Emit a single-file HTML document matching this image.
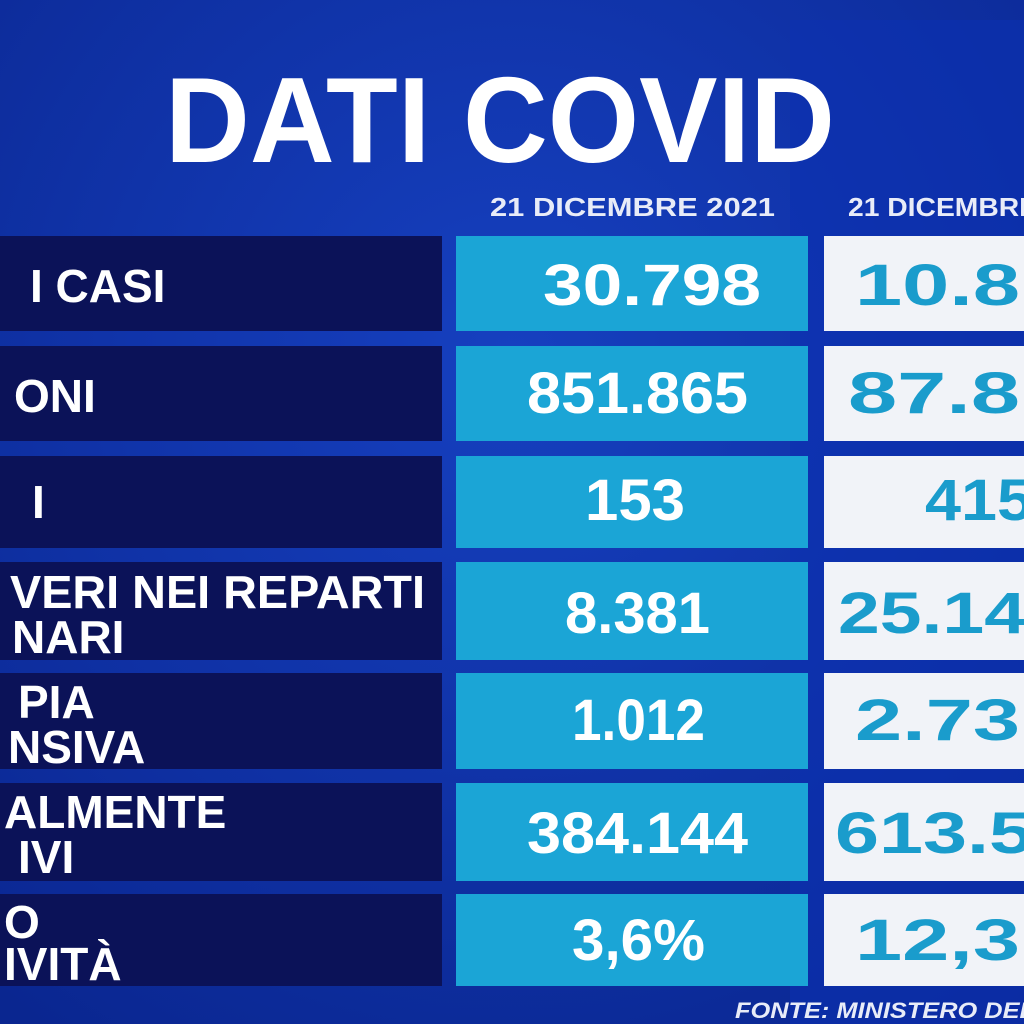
<!DOCTYPE html>
<html><head><meta charset="utf-8"><style>
html,body{margin:0;padding:0;background:#0a2a9a;}
svg{display:block}
text{font-family:"Liberation Sans",sans-serif;font-weight:bold}
</style></head><body>
<svg width="1024" height="1024" viewBox="0 0 1024 1024" xmlns="http://www.w3.org/2000/svg">
<defs>
<radialGradient id="bg" cx="0.5" cy="0.35" r="0.8">
<stop offset="0" stop-color="#1640c0"/><stop offset="1" stop-color="#0a2690"/>
</radialGradient>
</defs>
<rect width="1024" height="1024" fill="url(#bg)"/>
<rect x="790" y="20" width="234" height="1004" fill="#0c30b0" opacity="0.6"/>
<text x="165" y="162" font-size="122" fill="#fff" textLength="670" lengthAdjust="spacingAndGlyphs">DATI COVID</text>
<text x="490" y="216" font-size="26" fill="#e8ecf8" textLength="285" lengthAdjust="spacingAndGlyphs">21 DICEMBRE 2021</text>
<text x="848" y="216" font-size="26" fill="#e8ecf8" textLength="190" lengthAdjust="spacingAndGlyphs">21 DICEMBRE</text>
<g fill="#0b1258">
<rect x="0" y="236" width="442" height="95"/>
<rect x="0" y="346" width="442" height="95"/>
<rect x="0" y="456" width="442" height="92"/>
<rect x="0" y="562" width="442" height="98"/>
<rect x="0" y="673" width="442" height="96"/>
<rect x="0" y="783" width="442" height="98"/>
<rect x="0" y="894" width="442" height="92"/>
</g>
<g fill="#1ba5d6">
<rect x="456" y="236" width="352" height="95"/>
<rect x="456" y="346" width="352" height="95"/>
<rect x="456" y="456" width="352" height="92"/>
<rect x="456" y="562" width="352" height="98"/>
<rect x="456" y="673" width="352" height="96"/>
<rect x="456" y="783" width="352" height="98"/>
<rect x="456" y="894" width="352" height="92"/>
</g>
<g fill="#f1f3f8">
<rect x="824" y="236" width="200" height="95"/>
<rect x="824" y="346" width="200" height="95"/>
<rect x="824" y="456" width="200" height="92"/>
<rect x="824" y="562" width="200" height="98"/>
<rect x="824" y="673" width="200" height="96"/>
<rect x="824" y="783" width="200" height="98"/>
<rect x="824" y="894" width="200" height="92"/>
</g>
<g fill="#fff" font-size="46">
<text x="30" y="302">I CASI</text>
<text x="14" y="412">ONI</text>
<text x="32" y="518">I</text>
<text x="10" y="608" textLength="415" lengthAdjust="spacingAndGlyphs">VERI NEI REPARTI</text>
<text x="12" y="653">NARI</text>
<text x="18" y="718">PIA</text>
<text x="8" y="763">NSIVA</text>
<text x="4" y="828">ALMENTE</text>
<text x="18" y="873">IVI</text>
<text x="4" y="938">O</text>
<text x="4" y="980">IVITÀ</text>
</g>
<g fill="#fff" font-size="58">
<text x="543" y="305" textLength="218" lengthAdjust="spacingAndGlyphs">30.798</text>
<text x="527" y="413" textLength="221" lengthAdjust="spacingAndGlyphs">851.865</text>
<text x="585" y="520" textLength="100" lengthAdjust="spacingAndGlyphs">153</text>
<text x="565" y="633" textLength="145" lengthAdjust="spacingAndGlyphs">8.381</text>
<text x="572" y="740" textLength="133" lengthAdjust="spacingAndGlyphs">1.012</text>
<text x="527" y="853" textLength="221" lengthAdjust="spacingAndGlyphs">384.144</text>
<text x="572" y="960" textLength="133" lengthAdjust="spacingAndGlyphs">3,6%</text>
</g>
<g fill="#1a9ccc" font-size="58">
<text x="855" y="305" textLength="165" lengthAdjust="spacingAndGlyphs">10.8</text>
<text x="848" y="413" textLength="172" lengthAdjust="spacingAndGlyphs">87.8</text>
<text x="925" y="520" textLength="108" lengthAdjust="spacingAndGlyphs">415</text>
<text x="838" y="633" textLength="188" lengthAdjust="spacingAndGlyphs">25.14</text>
<text x="855" y="740" textLength="165" lengthAdjust="spacingAndGlyphs">2.73</text>
<text x="835" y="853" textLength="198" lengthAdjust="spacingAndGlyphs">613.5</text>
<text x="855" y="960" textLength="165" lengthAdjust="spacingAndGlyphs">12,3</text>
</g>
<text x="735" y="1018" font-size="22" font-style="italic" fill="#e8ecf8" textLength="300" lengthAdjust="spacingAndGlyphs">FONTE: MINISTERO DEL</text>
</svg>
</body></html>
